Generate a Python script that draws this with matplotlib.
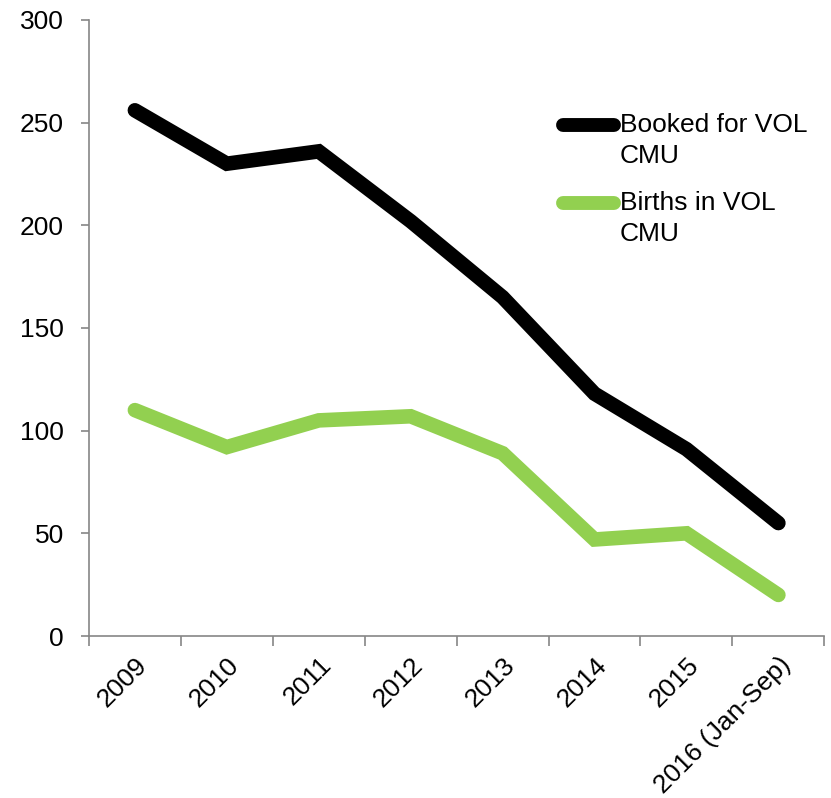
import matplotlib
matplotlib.use("Agg")
import matplotlib.pyplot as plt
from matplotlib.lines import Line2D

plt.rcParams['font.family'] = ['Liberation Sans', 'DejaVu Sans']

years = ['2009', '2010', '2011', '2012', '2013', '2014', '2015', '2016 (Jan-Sep)']
booked = [256, 230, 236, 202, 165, 118, 91, 55]
births = [110, 92, 105, 107, 89, 47, 50, 20]

series_names = ['Booked for VOL\nCMU', 'Births in VOL\nCMU']
colors = ['#000000', '#92D050']

fig = plt.figure(figsize=(8.31, 7.98), dpi=100)
ax = fig.add_axes([0.107, 0.203, 0.885, 0.772])

x = list(range(len(years)))
ax.plot(x, booked, color=colors[0], lw=10.5, solid_capstyle='round', solid_joinstyle='miter')
ax.plot(x, births, color=colors[1], lw=10.5, solid_capstyle='round', solid_joinstyle='miter')

ax.set_xlim(-0.5, len(years) - 0.5)
ax.set_ylim(0, 300)
ax.set_yticks(range(0, 301, 50))
ax.tick_params(axis='y', labelsize=19, length=6, width=1.2, color='#868686', pad=12)

# ticks between categories, labels at the centres
ax.set_xticks([i - 0.5 for i in range(len(years) + 1)])
ax.set_xticklabels([])
ax.set_xticks(x, minor=True)
ax.set_xticklabels(years, minor=True, rotation=45, ha='right', rotation_mode='anchor', fontsize=19)
ax.tick_params(axis='x', which='major', length=7, width=1.2, color='#868686', direction='out')
ax.tick_params(axis='x', which='minor', length=0, pad=12)

for s in ['top', 'right']:
    ax.spines[s].set_visible(False)
for s in ['left', 'bottom']:
    ax.spines[s].set_color('#868686')
    ax.spines[s].set_linewidth(1.2)

# legend drawn by hand so the key lines up with the first text line
W, H = 831, 798
for (name, c, yl) in zip(series_names, colors, [125, 203]):
    fig.add_artist(Line2D([563 / W, 614 / W], [1 - yl / H, 1 - yl / H], color=c, lw=10,
                          solid_capstyle='round'))
    fig.text(620 / W, 1 - (yl - 12) / H, name, fontsize=19, va='top', ha='left', linespacing=1.38)

fig.savefig('out.png', dpi=100)
